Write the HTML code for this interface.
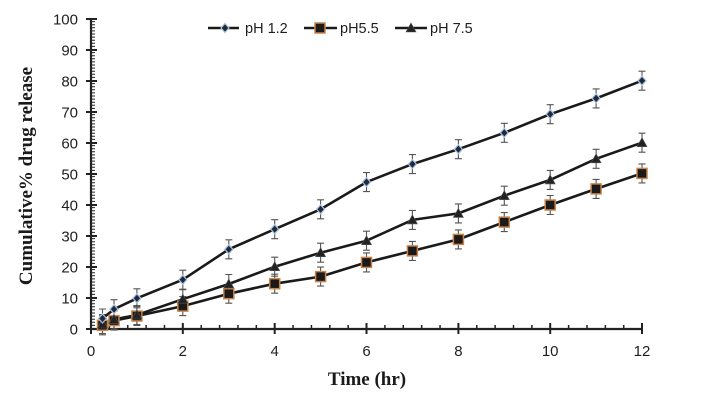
<!DOCTYPE html>
<html><head><meta charset="utf-8"><style>
html,body{margin:0;padding:0;background:#fff;}
svg{display:block;}
.tl{font-family:"Liberation Sans",sans-serif;font-size:15px;fill:#1e1e1e;}
.lg{font-family:"Liberation Sans",sans-serif;font-size:14.5px;fill:#1e1e1e;}
.at{font-family:"Liberation Serif",serif;font-weight:bold;font-size:19px;fill:#1a1a1a;}
</style></head><body>
<svg width="702" height="403" viewBox="0 0 702 403" xmlns="http://www.w3.org/2000/svg">
<defs>
<path id="eb" d="M-3.5 -9.5h7M0 -9.5v19M-3.5 9.5h7" stroke="#555" stroke-width="1.1" fill="none"/>
<polygon id="dia" points="0,-4.5 4,0 0,4.5 -4,0" fill="#1f2a3c" stroke="#a9c0dc" stroke-width="1.2"/>
<rect id="sq" x="-5" y="-5" width="10" height="10" fill="#1a1a1a" stroke="#c8844a" stroke-width="1.5"/>
<polygon id="tri" points="0,-5 5,4 -5,4" fill="#222" stroke="#555" stroke-width="0.6"/>
</defs>
<rect width="702" height="403" fill="#fff"/>

<!-- axes -->
<g stroke="#222" fill="none">
<line x1="91" y1="18" x2="91" y2="330" stroke-width="2.2"/>
<line x1="90" y1="329" x2="643" y2="329" stroke-width="2.2"/>
<line x1="93" y1="329" x2="93" y2="19" stroke-width="4" stroke-dasharray="1 2.1"/>
<line x1="91" y1="327" x2="643" y2="327" stroke-width="4" stroke-dasharray="1.5 16.87" stroke-dashoffset="0.75"/>
<path stroke-width="2" d="M86 329h11M86 298h11M86 267h11M86 236h11M86 205h11M86 174h11M86 143h11M86 112h11M86 81h11M86 50h11M86 19h11"/>
<path stroke-width="2" d="M91 323v11M182.8 323v11M274.7 323v11M366.5 323v11M458.4 323v11M550.2 323v11M642 323v11"/>
</g>

<!-- y tick labels -->
<g class="tl" text-anchor="end">
<text x="78" y="334.5">0</text>
<text x="78" y="303.5">10</text>
<text x="78" y="272.5">20</text>
<text x="78" y="241.5">30</text>
<text x="78" y="210.5">40</text>
<text x="78" y="179.5">50</text>
<text x="78" y="148.5">60</text>
<text x="78" y="117.5">70</text>
<text x="78" y="86.5">80</text>
<text x="78" y="55.5">90</text>
<text x="78" y="24.5">100</text>
</g>
<!-- x tick labels -->
<g class="tl" text-anchor="middle">
<text x="91" y="356">0</text>
<text x="182.8" y="356">2</text>
<text x="274.7" y="356">4</text>
<text x="366.5" y="356">6</text>
<text x="458.4" y="356">8</text>
<text x="550.2" y="356">10</text>
<text x="642" y="356">12</text>
</g>

<text class="at" x="367" y="385" text-anchor="middle">Time (hr)</text>
<text class="at" transform="translate(32,176) rotate(-90)" text-anchor="middle">Cumulative% drug release</text>

<!-- error bars -->
<g>
<use href="#eb" x="102.5" y="318.5"/><use href="#eb" x="114" y="309.2"/><use href="#eb" x="136.9" y="298.3"/><use href="#eb" x="182.8" y="279.7"/><use href="#eb" x="228.8" y="249.3"/><use href="#eb" x="274.7" y="229.2"/><use href="#eb" x="320.6" y="209.3"/><use href="#eb" x="366.5" y="182.1"/><use href="#eb" x="412.4" y="164.1"/><use href="#eb" x="458.4" y="149.2"/><use href="#eb" x="504.3" y="132.8"/><use href="#eb" x="550.2" y="114.2"/><use href="#eb" x="596.1" y="98.4"/><use href="#eb" x="642" y="80.7"/>
<use href="#eb" x="102.5" y="325.3"/><use href="#eb" x="114" y="320.6"/><use href="#eb" x="136.9" y="316"/><use href="#eb" x="182.8" y="306.1"/><use href="#eb" x="228.8" y="293.7"/><use href="#eb" x="274.7" y="283.7"/><use href="#eb" x="320.6" y="276.6"/><use href="#eb" x="366.5" y="262.4"/><use href="#eb" x="412.4" y="250.9"/><use href="#eb" x="458.4" y="239.4"/><use href="#eb" x="504.3" y="222.1"/><use href="#eb" x="550.2" y="205"/><use href="#eb" x="596.1" y="188.9"/><use href="#eb" x="642" y="173.4"/>
<use href="#eb" x="102.5" y="324"/><use href="#eb" x="114" y="319.4"/><use href="#eb" x="136.9" y="315"/><use href="#eb" x="182.8" y="299.2"/><use href="#eb" x="228.8" y="284"/><use href="#eb" x="274.7" y="266.7"/><use href="#eb" x="320.6" y="252.7"/><use href="#eb" x="366.5" y="240.7"/><use href="#eb" x="412.4" y="219.9"/><use href="#eb" x="458.4" y="213.4"/><use href="#eb" x="504.3" y="195.7"/><use href="#eb" x="550.2" y="179.9"/><use href="#eb" x="596.1" y="158.8"/><use href="#eb" x="642" y="142.7"/>
</g>

<!-- lines -->
<g fill="none" stroke="#1a1a1a" stroke-width="2.6" stroke-linejoin="round">
<polyline points="102.5,318.5 114,309.2 136.9,298.3 182.8,279.7 228.8,249.3 274.7,229.2 320.6,209.3 366.5,182.1 412.4,164.1 458.4,149.2 504.3,132.8 550.2,114.2 596.1,98.4 642,80.7"/>
<polyline points="102.5,325.3 114,320.6 136.9,316 182.8,306.1 228.8,293.7 274.7,283.7 320.6,276.6 366.5,262.4 412.4,250.9 458.4,239.4 504.3,222.1 550.2,205 596.1,188.9 642,173.4"/>
<polyline points="102.5,324 114,319.4 136.9,315 182.8,299.2 228.8,284 274.7,266.7 320.6,252.7 366.5,240.7 412.4,219.9 458.4,213.4 504.3,195.7 550.2,179.9 596.1,158.8 642,142.7"/>
</g>

<!-- markers -->
<g>
<use href="#sq" x="102.5" y="325.3"/><use href="#sq" x="114" y="320.6"/><use href="#sq" x="136.9" y="316"/><use href="#sq" x="182.8" y="306.1"/><use href="#sq" x="228.8" y="293.7"/><use href="#sq" x="274.7" y="283.7"/><use href="#sq" x="320.6" y="276.6"/><use href="#sq" x="366.5" y="262.4"/><use href="#sq" x="412.4" y="250.9"/><use href="#sq" x="458.4" y="239.4"/><use href="#sq" x="504.3" y="222.1"/><use href="#sq" x="550.2" y="205"/><use href="#sq" x="596.1" y="188.9"/><use href="#sq" x="642" y="173.4"/>
<use href="#tri" x="102.5" y="324"/><use href="#tri" x="114" y="319.4"/><use href="#tri" x="136.9" y="315"/><use href="#tri" x="182.8" y="299.2"/><use href="#tri" x="228.8" y="284"/><use href="#tri" x="274.7" y="266.7"/><use href="#tri" x="320.6" y="252.7"/><use href="#tri" x="366.5" y="240.7"/><use href="#tri" x="412.4" y="219.9"/><use href="#tri" x="458.4" y="213.4"/><use href="#tri" x="504.3" y="195.7"/><use href="#tri" x="550.2" y="179.9"/><use href="#tri" x="596.1" y="158.8"/><use href="#tri" x="642" y="142.7"/>
<use href="#dia" x="102.5" y="318.5"/><use href="#dia" x="114" y="309.2"/><use href="#dia" x="136.9" y="298.3"/><use href="#dia" x="182.8" y="279.7"/><use href="#dia" x="228.8" y="249.3"/><use href="#dia" x="274.7" y="229.2"/><use href="#dia" x="320.6" y="209.3"/><use href="#dia" x="366.5" y="182.1"/><use href="#dia" x="412.4" y="164.1"/><use href="#dia" x="458.4" y="149.2"/><use href="#dia" x="504.3" y="132.8"/><use href="#dia" x="550.2" y="114.2"/><use href="#dia" x="596.1" y="98.4"/><use href="#dia" x="642" y="80.7"/>
</g>

<!-- legend -->
<g stroke="#1a1a1a" stroke-width="2.6">
<line x1="208" y1="28" x2="239" y2="28"/>
<line x1="304" y1="28" x2="337" y2="28"/>
<line x1="395" y1="28" x2="427" y2="28"/>
</g>
<use href="#dia" x="225" y="28"/>
<use href="#sq" x="320" y="28"/>
<use href="#tri" x="411" y="28"/>
<g class="lg">
<text x="245" y="33">pH 1.2</text>
<text x="340" y="33">pH5.5</text>
<text x="430" y="33">pH 7.5</text>
</g>
</svg>
</body></html>
